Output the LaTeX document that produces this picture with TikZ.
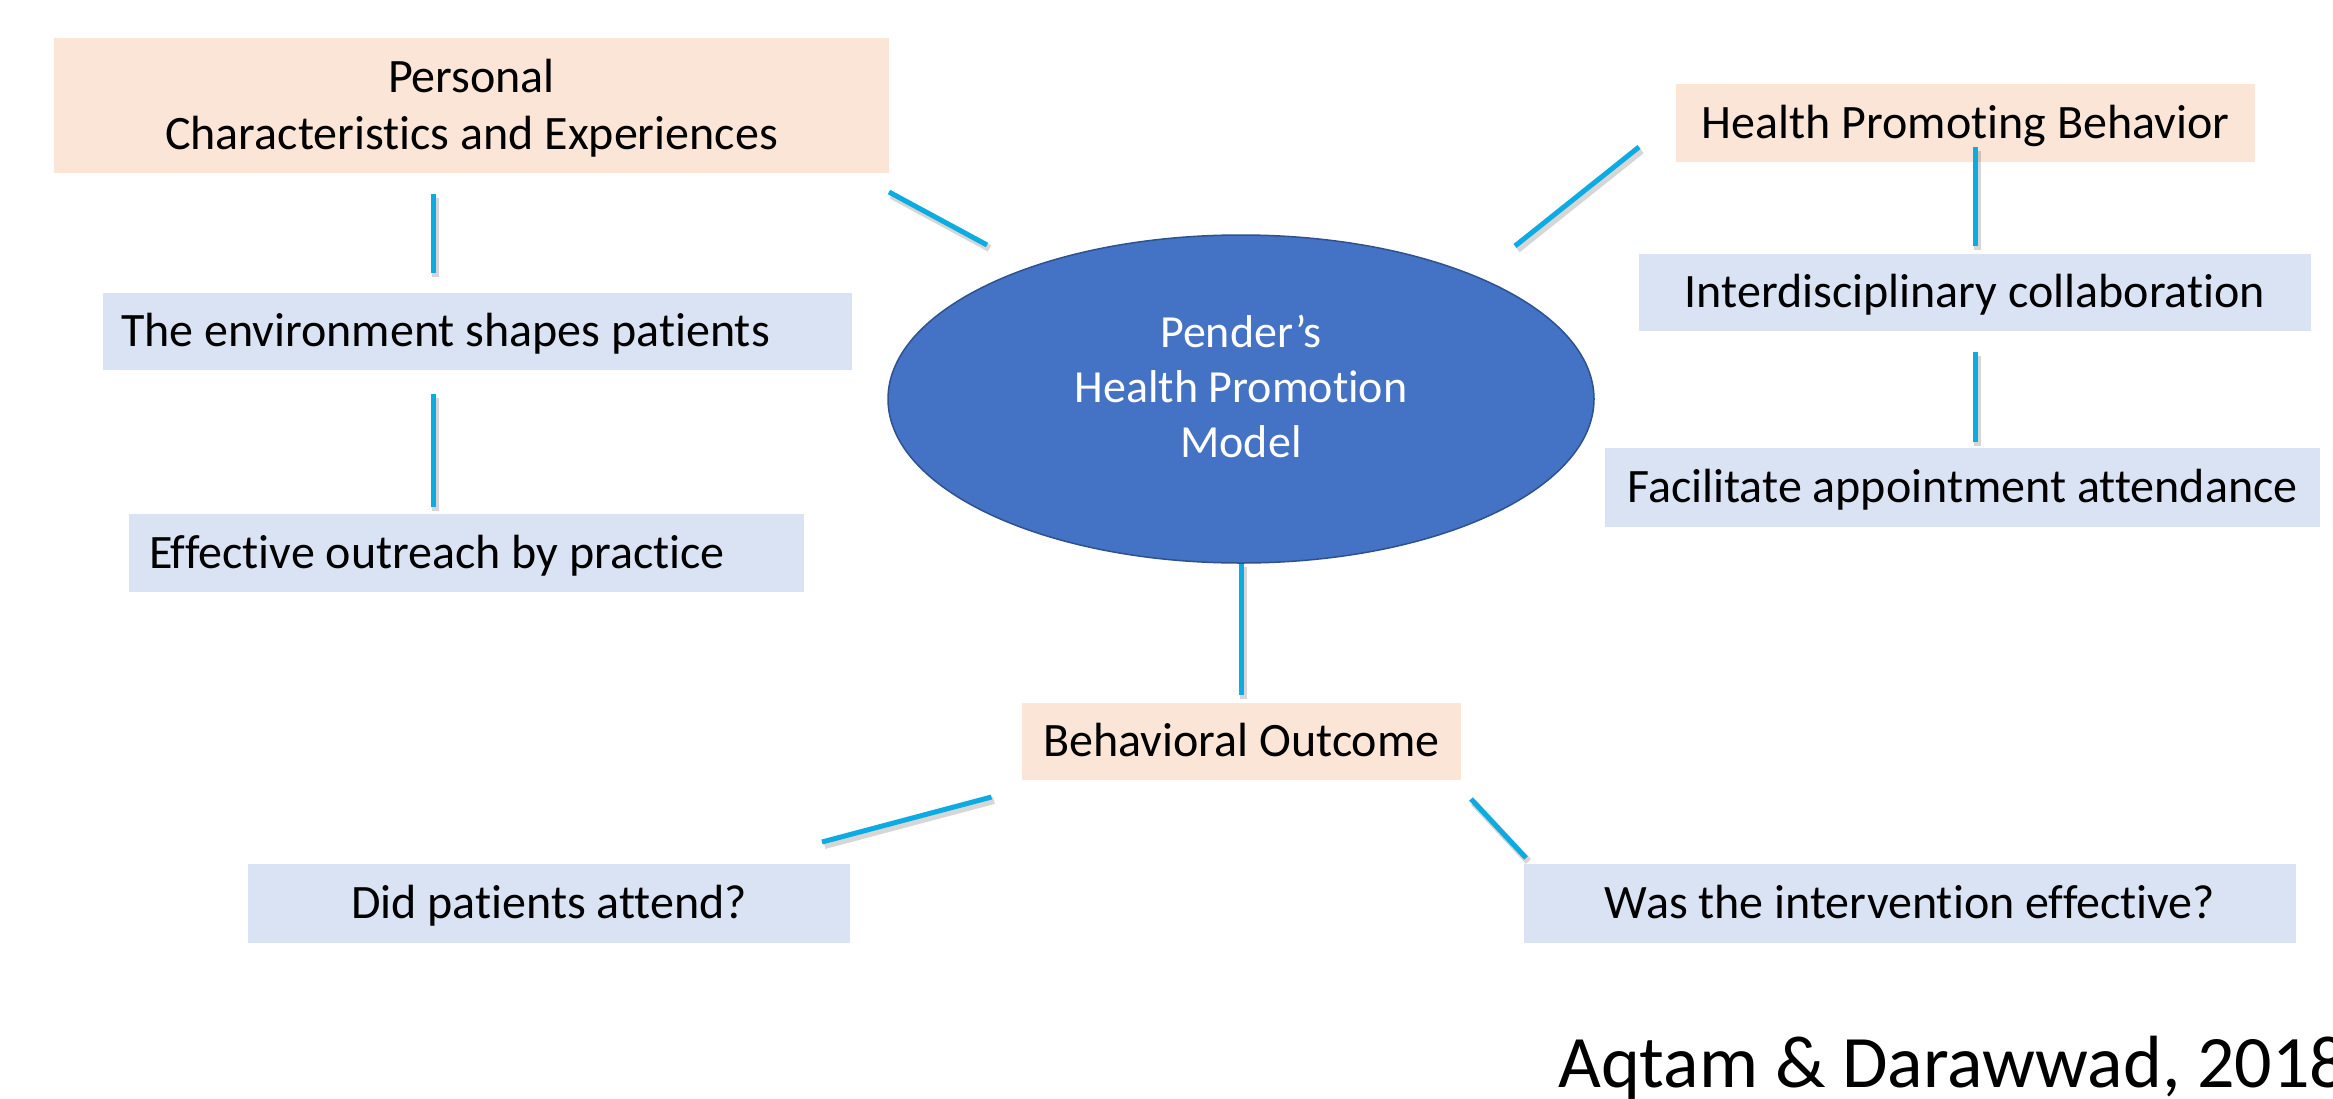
\documentclass[tikz,border=0pt]{standalone}
\usepackage{fontspec}
\setmainfont{Carlito}[Ligatures=NoCommon]
\usetikzlibrary{shapes.geometric}
\definecolor{peachfill}{RGB}{251,229,214}
\definecolor{slatefill}{RGB}{218,227,243}
\definecolor{hubfill}{RGB}{68,114,196}
\definecolor{hubedge}{RGB}{47,82,143}
\definecolor{linkblue}{RGB}{12,172,226}
% fixed, unstretched font interword space inside aligned node text
\newcommand\fontspaces{\spaceskip=\fontdimen2\font\relax
  \xspaceskip=\fontdimen2\font\relax}
\begin{document}
\begin{tikzpicture}[x=1pt,y=-1pt,
  box/.style={rectangle, inner sep=0pt, text height=30pt, text depth=0pt,
    font=\fontsize{48}{57.6}\selectfont, text=black},
  peach/.style={box, fill=peachfill},
  slate/.style={box, fill=slatefill},
  leftbox/.style={slate, align=left, inner xsep=#1},
  link/.style={draw=linkblue, line width=5pt,
    preaction={draw=black, opacity=0.16, line width=7pt,
      transform canvas={xshift=2.5pt, yshift=-3.5pt}}},
]
% page frame
\useasboundingbox (0,0) rectangle (2333,1098);
\fill[white] (0,0) rectangle (2333,1098);

% central model
\node[ellipse, fill=hubfill, draw=hubedge, line width=1.5pt, inner sep=0pt,
  minimum width=706pt, minimum height=328pt, text=white,
  text width=420pt, align=center, text height=10pt, text depth=114pt,
  font=\fontsize{46}{55}\selectfont] (hub) at (1241,399)
  {\fontspaces Pender’s\\Health Promotion\\Model};

% left branch
\node[peach, minimum width=835pt, minimum height=135pt, text width=800pt,
  align=center, text height=10pt, text depth=37pt] (pers) at (471.5,105.5)
  {\fontspaces Personal\\Characteristics and Experiences};
\node[leftbox=18pt, minimum height=77pt, text width=713pt] (env) at (477.5,331.5)
  {\fontspaces The environment shapes patients};
\node[leftbox=20pt, minimum height=78pt, text width=635pt] (eff) at (466.5,553)
  {\fontspaces Effective outreach by practice};

% right branch
\node[peach, minimum width=579pt, minimum height=78pt] (hpb) at (1965.5,123)
  {Health Promoting Behavior};
\node[slate, minimum width=672pt, minimum height=77pt] (inter) at (1975,292.5)
  {Interdisciplinary collaboration};
\node[slate, minimum width=715pt, minimum height=79pt] (fac) at (1962.5,487.5)
  {Facilitate appointment attendance};

% bottom branch
\node[peach, minimum width=439pt, minimum height=77pt] (beh) at (1241.5,741.5)
  {Behavioral Outcome};
\node[slate, minimum width=602pt, minimum height=79pt] (did) at (549,903.5)
  {Did patients attend?};
\node[slate, minimum width=772pt, minimum height=79pt] (was) at (1910,903.5)
  {Was the intervention effective?};

% source
\node[anchor=base west, inner sep=0pt, font=\fontsize{74}{89}\selectfont] (cite)
  at (1558,1087) {Aqtam \& Darawwad, 2018};

% connector ends
\coordinate (persLow)  at (433,194);
\coordinate (envTop)   at (433,273);
\coordinate (envLow)   at (433,394);
\coordinate (effTop)   at (433,507);
\coordinate (persSide) at (889,192);
\coordinate (hubNW)    at (987,245);
\coordinate (hubNE)    at (1515,246);
\coordinate (hpbSide)  at (1639,147);
\coordinate (hpbLow)   at (1975,147);
\coordinate (interTop) at (1975,246);
\coordinate (interLow) at (1975,352);
\coordinate (facTop)   at (1975,442);
\coordinate (behTop)   at (1241,695);
\coordinate (behSW)    at (991.5,797);
\coordinate (didTop)   at (822,842);
\coordinate (behSE)    at (1471,799);
\coordinate (wasTop)   at (1526,858);

% connectors
\draw[link] (persLow) -- (envTop);
\draw[link] (envLow) -- (effTop);
\draw[link] (persSide) -- (hubNW);
\draw[link] (hubNE) -- (hpbSide);
\draw[link] (hpbLow) -- (interTop);
\draw[link] (interLow) -- (facTop);
\draw[link] (hub.south) -- (behTop);
\draw[link] (behSW) -- (didTop);
\draw[link] (behSE) -- (wasTop);
\end{tikzpicture}
\end{document}
